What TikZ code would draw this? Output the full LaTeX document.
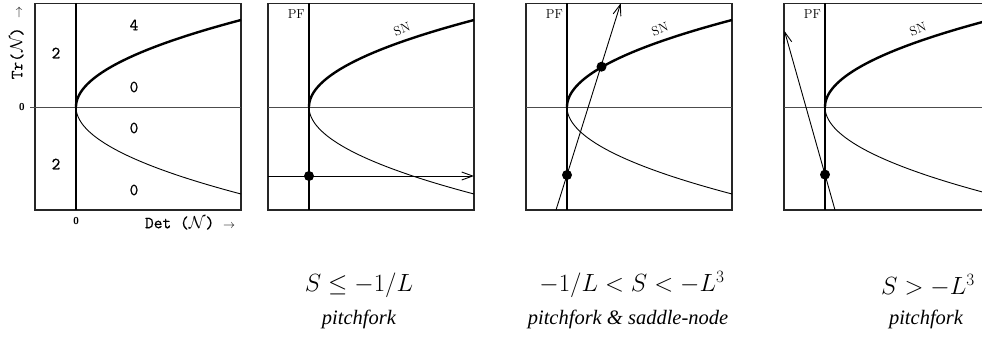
\documentclass[tikz,border=0pt]{standalone}
\usepackage{fontspec}
\usetikzlibrary{arrows.meta}
\newfontfamily\timesf{Liberation Serif}
\newfontfamily\monob{Latin Modern Mono}[FakeBold=0.6]
\newcommand{\smarr}{{\fontsize{13}{13}\selectfont$\rightarrow$}}
\begin{document}
\begin{tikzpicture}[x=1pt,y=-1pt,
  frame/.style={line width=1.1pt, draw=black!85},
  axisline/.style={line width=0.8pt, draw=black!70},
  pfline/.style={line width=2.4pt},
  snthick/.style={line width=2.4pt},
  snthin/.style={line width=0.9pt},
  traj/.style={line width=0.9pt, -{Straight Barb[length=11pt,width=8pt,line width=0.9pt]}},
  dotmark/.style={circle, fill=black, inner sep=0pt, minimum size=10pt},
  region/.style={font=\fontsize{17}{17}\selectfont\monob},
  tick/.style={font=\fontsize{10}{10}\selectfont\sffamily\bfseries},
  axlabel/.style={font=\fontsize{17}{17}\selectfont\monob},
  bif/.style={font=\fontsize{13}{13}\selectfont, inner sep=1pt},
  cond/.style={font=\fontsize{25}{25}\selectfont},
  kind/.style={font=\fontsize{20.5}{20.5}\selectfont\timesf\itshape}
]
\useasboundingbox (0,0) rectangle (982,343);
\clip (0,0) rectangle (982,343);

% ---------- panel 1 ----------
\begin{scope}[xshift=35pt]
  \draw[frame] (0,3.3) rectangle (206,210);
  \draw[axisline] (-5,107) -- (206,107);
  \draw[pfline] (41,3.3) -- (41,210);
  \draw[snthick] plot[domain=0:87,samples=80,variable=\t] ({41+165*(\t/87)^2},{107-\t});
  \draw[snthin] plot[domain=0:87,samples=80,variable=\t] ({41+165*(\t/87)^2},{107+\t});
  \node[region] (r4) at (99,25) {4};
  \node[region] (r0a) at (99,87) {0};
  \node[region] (r0b) at (99,128) {0};
  \node[region] (r0c) at (99,190) {0};
  \node[region] (r2a) at (21,53) {2};
  \node[region] (r2b) at (21,164) {2};
  \node[tick] (t0y) at (-13,107) {0};
  \node[tick] (t0x) at (41,221) {0};
  \node[axlabel] (detl) at (155,223) {Det ($\mathcal{N}$) \smarr};
  \node[axlabel, rotate=90] (trl) at (-18,43) {Tr($\mathcal{N}$) \smarr};
\end{scope}

% ---------- panel 2 ----------
\begin{scope}[xshift=268pt]
  \draw[frame] (0,3.3) rectangle (206,210);
  \draw[axisline] (0,107) -- (206,107);
  \draw[pfline] (41,3.3) -- (41,210);
  \draw[snthick] plot[domain=0:87,samples=80,variable=\t] ({41+165*(\t/87)^2},{107-\t});
  \draw[snthin] plot[domain=0:87,samples=80,variable=\t] ({41+165*(\t/87)^2},{107+\t});
  \node[bif, anchor=east] (pf2) at (38,14) {PF};
  \node[bif, rotate=20] (sn2) at (134,29) {SN};
  \coordinate (s2) at (0,176);
  \coordinate (e2) at (206,176);
  \draw[traj] (s2) -- (e2);
  \node[dotmark] (d2) at (41,176) {};
\end{scope}

% ---------- panel 3 ----------
\begin{scope}[xshift=526pt]
  \draw[frame] (0,3.3) rectangle (206,210);
  \draw[axisline] (0,107) -- (206,107);
  \draw[pfline] (41,3.3) -- (41,210);
  \draw[snthick] plot[domain=0:87,samples=80,variable=\t] ({41+165*(\t/87)^2},{107-\t});
  \draw[snthin] plot[domain=0:87,samples=80,variable=\t] ({41+165*(\t/87)^2},{107+\t});
  \node[bif, anchor=east] (pf3) at (38,14) {PF};
  \node[bif, rotate=20] (sn3) at (134,29) {SN};
  \coordinate (s3) at (30,210);
  \coordinate (e3) at (94.7,3.3);
  \draw[traj] (s3) -- (e3);
  \node[dotmark] (d3a) at (41,175) {};
  \node[dotmark] (d3b) at (75.5,66.7) {};
\end{scope}

% ---------- panel 4 ----------
\begin{scope}[xshift=784pt]
  \draw[frame] (0,3.3) rectangle (206,210);
  \draw[axisline] (0,107) -- (206,107);
  \draw[pfline] (41,3.3) -- (41,210);
  \draw[snthick] plot[domain=0:87,samples=80,variable=\t] ({41+165*(\t/87)^2},{107-\t});
  \draw[snthin] plot[domain=0:87,samples=80,variable=\t] ({41+165*(\t/87)^2},{107+\t});
  \node[bif, anchor=east] (pf4) at (38,14) {PF};
  \node[bif, rotate=20] (sn4) at (134,29) {SN};
  \coordinate (s4) at (51,210);
  \coordinate (e4) at (0.5,31);
  \draw[traj] (s4) -- (e4);
  \node[dotmark] (d4) at (41,174.6) {};
\end{scope}

% ---------- captions ----------
\node[cond] (c2) at (359,285) {$S \le -1/L$};
\node[kind] (k2) at (359,319) {pitchfork};
\node[cond] (c3) at (632,285) {$-1/L < S < -L^3$};
\node[kind] (k3) at (628,319) {pitchfork \& saddle-node};
\node[cond] (c4) at (928,285) {$S > -L^3$};
\node[kind] (k4) at (926,319) {pitchfork};
\end{tikzpicture}
\end{document}
